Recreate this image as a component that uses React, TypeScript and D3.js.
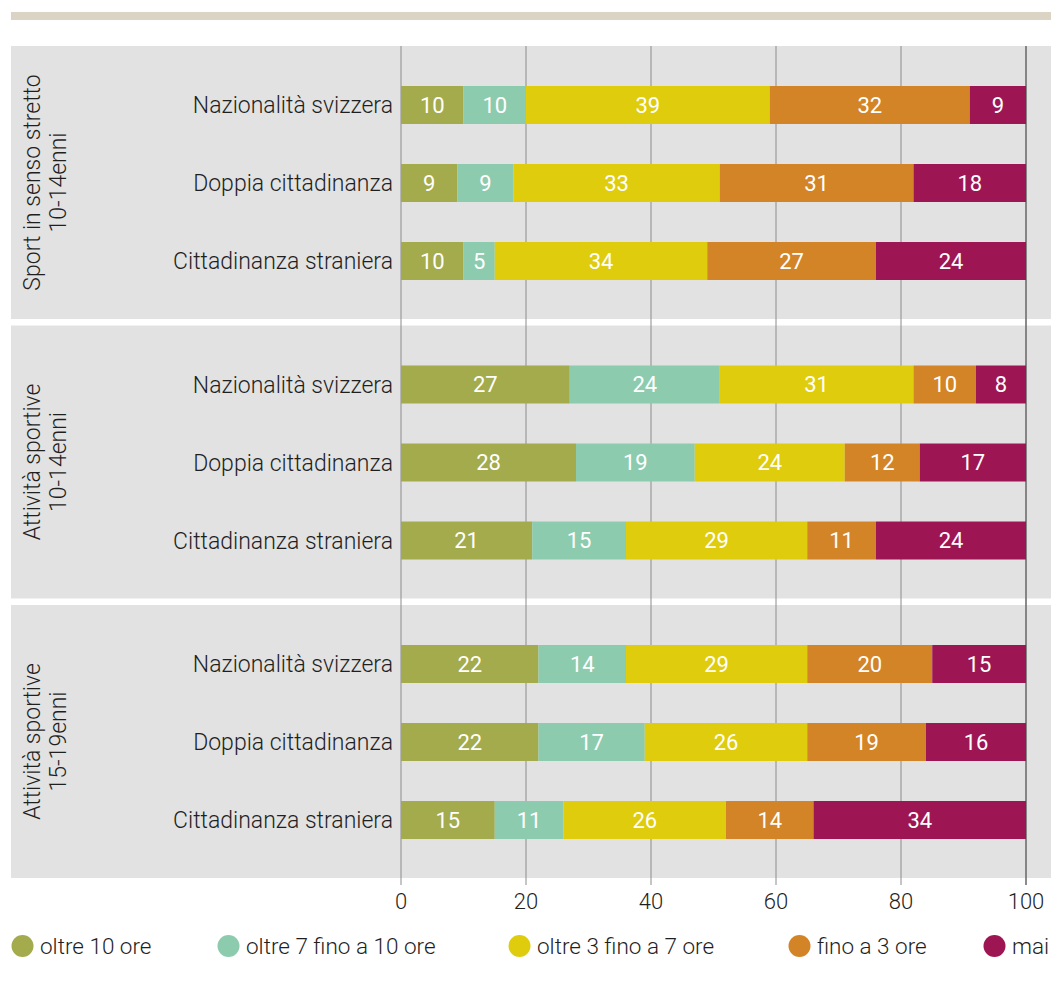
import React from "react";
import * as d3 from "d3";

// Hours of sport per week, share in % by nationality group
const seriesNames = [
  "oltre 10 ore",
  "oltre 7 fino a 10 ore",
  "oltre 3 fino a 7 ore",
  "fino a 3 ore",
  "mai",
];
const seriesColors = ["#a3ab4c", "#8dcbaf", "#dfcc0c", "#d38427", "#9e1554"];

const categories = ["Nazionalità svizzera", "Doppia cittadinanza", "Cittadinanza straniera"];

const groupLabels = [
  ["Sport in senso stretto", "10-14enni"],
  ["Attività sportive", "10-14enni"],
  ["Attività sportive", "15-19enni"],
];

const sportStretto1014 = [
  [10, 10, 39, 32, 9],
  [9, 9, 33, 31, 18],
  [10, 5, 34, 27, 24],
];
const attivita1014 = [
  [27, 24, 31, 10, 8],
  [28, 19, 24, 12, 17],
  [21, 15, 29, 11, 24],
];
const attivita1519 = [
  [22, 14, 29, 20, 15],
  [22, 17, 26, 19, 16],
  [15, 11, 26, 14, 34],
];
const groupValues = [sportStretto1014, attivita1014, attivita1519];

const xTicks = [0, 20, 40, 60, 80, 100];

// layout
const W = 1051;
const H = 985;
const panelLeft = 11;
const panelRight = 1051;
const font = "Roboto, 'Noto Sans', sans-serif";
const textColor = "#1f1f1f";
const legendX = [11, 217, 508, 788, 983];
const labelSize = 23;
const legendSize = 22.5;
const valueSize = 22;

export default function App() {
  const x = d3.scaleLinear().domain([0, 100]).range([401, 1026]);
  const groupBand = d3
    .scaleBand<number>()
    .domain(d3.range(groupLabels.length))
    .range([46, 878])
    .paddingInner(0.0233)
    .paddingOuter(0);
  const panelH = groupBand.bandwidth();
  const rowBand = d3
    .scaleBand<number>()
    .domain(d3.range(categories.length))
    .range([40, 234])
    .paddingInner(0.513)
    .paddingOuter(0);

  const stack = (row: number[]) => {
    let acc = 0;
    return row.map((v) => {
      const s = { x0: acc, x1: acc + v, v };
      acc += v;
      return s;
    });
  };

  const axisTop = 46;
  const axisBottom = 885;

  return (
    <svg
      width={W}
      height={H}
      style={{ position: "absolute", left: 0, top: 0, background: "#ffffff" }}
      fontFamily={font}
    >
      <rect x={11} y={12} width={W - 11} height={8} fill="#dbd4c4" />

      {/* panel backgrounds */}
      {groupLabels.map((_, gi) => (
        <rect
          key={"bg" + gi}
          x={panelLeft}
          y={groupBand(gi)!}
          width={panelRight - panelLeft}
          height={panelH}
          fill="#e2e2e2"
        />
      ))}

      {/* grid lines */}
      {xTicks.map((t) => (
        <line
          key={"g" + t}
          x1={x(t)}
          x2={x(t)}
          y1={axisTop}
          y2={axisBottom}
          stroke={t === 100 ? "#6e6e6e" : "#8c8c8c"}
          strokeWidth={t === 100 ? 1.6 : 1}
        />
      ))}

      {groupLabels.map((lines, gi) => {
        const top = groupBand(gi)!;
        const cy = top + panelH / 2;
        return (
          <g key={"grp" + gi}>
            <text
              transform={`translate(40,${cy}) rotate(-90)`}
              textAnchor="middle"
              fontSize={labelSize}
              fontWeight={300}
              fill={textColor}
            >
              <tspan x={0} dy={0}>{lines[0]}</tspan>
              <tspan x={0} dy={26}>{lines[1]}</tspan>
            </text>
            {categories.map((cat, ri) => {
              const y0 = top + rowBand(ri)!;
              const bh = rowBand.bandwidth();
              const segs = stack(groupValues[gi][ri]);
              return (
                <g key={"row" + ri}>
                  <text
                    x={393}
                    y={y0 + bh / 2}
                    dy="0.36em"
                    textAnchor="end"
                    fontSize={labelSize}
                    fontWeight={300}
                    fill={textColor}
                  >
                    {cat}
                  </text>
                  {segs.map((s, si) => (
                    <rect
                      key={"r" + si}
                      x={x(s.x0)}
                      y={y0}
                      width={x(s.x1) - x(s.x0)}
                      height={bh}
                      fill={seriesColors[si]}
                    />
                  ))}
                  {segs.map((s, si) => (
                    <text
                      key={"t" + si}
                      x={(x(s.x0) + x(s.x1)) / 2}
                      y={y0 + bh / 2}
                      dy="0.36em"
                      textAnchor="middle"
                      fontSize={valueSize}
                      fill="#ffffff"
                    >
                      {s.v}
                    </text>
                  ))}
                </g>
              );
            })}
          </g>
        );
      })}

      {/* x axis labels */}
      {xTicks.map((t) => (
        <text
          key={"tl" + t}
          x={x(t)}
          y={901}
          dy="0.36em"
          textAnchor="middle"
          fontSize={22}
          fontWeight={300}
          fill={textColor}
        >
          {t}
        </text>
      ))}

      {/* legend */}
      {seriesNames.map((name, i) => (
        <g key={"lg" + i} transform={`translate(${legendX[i]},946)`}>
          <circle cx={11.5} cy={0} r={11} fill={seriesColors[i]} />
          <text x={29} y={0} dy="0.36em" fontSize={legendSize} fontWeight={300} fill={textColor}>
            {name}
          </text>
        </g>
      ))}
    </svg>
  );
}
